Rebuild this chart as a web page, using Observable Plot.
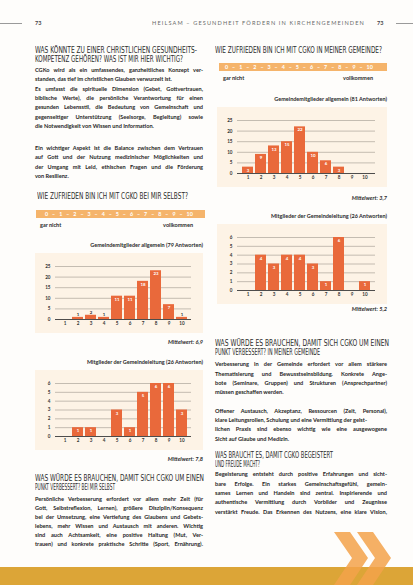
<!DOCTYPE html>
<html><head><meta charset="utf-8">
<script src="https://cdn.jsdelivr.net/npm/d3@7"></script>
<script src="https://cdn.jsdelivr.net/npm/@observablehq/plot@0.6"></script>
<style>
html,body{margin:0;padding:0;background:#fff;}
#page{position:relative;width:413px;height:585px;overflow:hidden;background:#fefdfb;font-family:Lato,"Open Sans",sans-serif;color:#2b2b2b;}
.abs{position:absolute;white-space:nowrap;}
.fit{display:inline-block;transform-origin:0 50%;}
.h{font-family:"DejaVu Sans Condensed","DejaVu Sans",sans-serif;font-size:8.4px;color:#2d2d2d;line-height:9px;height:9px;}
.ln{font-size:5.6px;font-weight:700;line-height:7px;height:7px;color:#262626;}
.j{text-align:justify;text-align-last:justify;}
.t{font-size:5.5px;font-weight:700;line-height:7px;height:7px;color:#2a2a2a;}
.hd{font-size:5px;font-weight:400;letter-spacing:1px;line-height:7px;height:7px;color:#6a6a6a;}
.mw{font-size:5.6px;font-weight:700;font-style:italic;line-height:7px;height:7px;color:#2a2a2a;}
</style></head><body><div id="page"></div>
<script>
// ---- data ----
const categories = [1, 2, 3, 4, 5, 6, 7, 8, 9, 10];
const selfMembers = [0, 1, 2, 1, 11, 11, 18, 23, 7, 1];   // Gemeindemitglieder allgemein (79)
const selfLeaders = [0, 1, 1, 0, 3, 1, 5, 6, 6, 3];       // Mitglieder der Gemeindeleitung (26)
const churchMembers = [3, 9, 13, 15, 22, 10, 6, 3, 0, 0]; // Gemeindemitglieder allgemein (81)
const churchLeaders = [0, 4, 3, 4, 4, 3, 1, 6, 0, 1];     // Mitglieder der Gemeindeleitung (26)
const scaleLabels = [0, 1, 2, 3, 4, 5, 6, 7, 8, 9, 10];
const chartTitles = ["Gemeindemitglieder allgemein (79 Antworten)", "Mitglieder der Gemeindeleitung (26 Antworten)",
                     "Gemeindemitglieder allgemein (81 Antworten)", "Mitglieder der Gemeindeleitung (26 Antworten)"];
const meanLabels = ["Mittelwert: 6,9", "Mittelwert: 7,8", "Mittelwert: 3,7", "Mittelwert: 5,2"];

const page = document.getElementById("page");
function add(html, cls, css) {
  const d = document.createElement("div");
  d.className = "abs " + (cls || "");
  Object.assign(d.style, css || {});
  d.innerHTML = html;
  page.appendChild(d);
  return d;
}
function fitted(text, cls, x, cy, targetW, h) {
  const d = add("", cls, {left: x + "px", top: (cy - h / 2) + "px"});
  const s = document.createElement("span");
  s.className = "fit";
  s.textContent = text;
  d.appendChild(s);
  const w = s.getBoundingClientRect().width;
  s.style.transform = `scaleX(${targetW / w})`;
  return d;
}
function heading(lines, x, cys, widths) {
  lines.forEach((t, i) => fitted(t, "h", x, cys[i], widths[i], 9));
}
function para(lines, x, w, cys, lastLeft) {
  lines.forEach((t, i) => {
    const left = lastLeft.includes(i);
    add(t, "ln" + (left ? "" : " j"), {left: x + "px", top: (cys[i] - 3.5) + "px", width: w + "px"});
  });
}
function scaleBar(x, y, w, nx, tx, tw) {
  const bar = add("", "", {left: x + "px", top: y + "px", width: w + "px", height: "8px", background: "#f5b46b"});
  const inner = document.createElement("div");
  Object.assign(inner.style, {position: "absolute", left: (tx - x) + "px", width: tw + "px", top: "0", height: "8px",
    display: "flex", justifyContent: "space-between", alignItems: "center", color: "#fff", fontSize: "5.4px", fontWeight: "700"});
  const parts = [];
  scaleLabels.forEach((v, i) => { parts.push(String(v)); if (i < scaleLabels.length - 1) parts.push("–"); });
  parts.forEach(p => { const s = document.createElement("span"); s.textContent = p; inner.appendChild(s); });
  bar.appendChild(inner);
  add("gar nicht", "t", {left: nx + "px", top: (y + 12) + "px"});
  add("vollkommen", "t", {left: (tx + tw - 40) + "px", width: "40px", textAlign: "right", top: (y + 12) + "px"});
}
function chart(values, yMax, yStep, w) {
  const data = categories.map((c, i) => ({c, v: values[i]}));
  const ticks = d3.range(0, yMax + 1e-9, yStep);
  const small = yMax * 0.12; // bars too short to hold their label inside
  return Plot.plot({
    width: w, height: 80, marginLeft: 20, marginRight: 12, marginTop: 13, marginBottom: 14,
    style: {background: "#fdf3e6", fontFamily: "Lato, sans-serif", fontSize: "4.6px", color: "#333", overflow: "visible"},
    x: {type: "band", domain: categories, padding: 0.14, label: null},
    y: {domain: [0, yMax], label: null},
    marks: [
      Plot.ruleY(ticks.filter(t => t > 0), {stroke: "#bdb5aa", strokeWidth: 0.9}),
      Plot.axisY(ticks, {tickSize: 0, tickPadding: 5, label: null, fontWeight: "bold"}),
      Plot.axisX({tickSize: 0, tickPadding: 2.5, label: null, fontWeight: "bold"}),
      Plot.barY(data, {x: "c", y: "v", fill: "#e9693b"}),
      Plot.ruleY([0], {stroke: "#3a3a3a", strokeWidth: 0.9}),
      Plot.text(data.filter(d => d.v >= small), {x: "c", y: "v", text: d => String(d.v), dy: 3.2, fill: "white", fontSize: 4.4, fontWeight: "bold"}),
      Plot.text(data.filter(d => d.v > 0 && d.v < small), {x: "c", y: "v", text: d => String(d.v), dy: -3, fill: "#333", fontSize: 4.4, fontWeight: "bold"})
    ]
  });
}
function placeChart(values, yMax, yStep, x, top, w, title, mean, meanY) {
  add(title, "t", {left: (x + w - 160) + "px", width: "160px", textAlign: "right", top: (top - 11.5) + "px"});
  const holder = add("", "", {left: x + "px", top: top + "px"});
  holder.appendChild(chart(values, yMax, yStep, w));
  add(mean, "mw", {left: (x + w - 80) + "px", width: "80px", textAlign: "right", top: (meanY - 3.5) + "px"});
}

// ---- header ----
add("", "", {left: "0px", top: "22.5px", width: "22px", height: "1px", background: "#9a9a9a"});
add("73", "t", {left: "35px", top: "19.5px", color: "#444"});
fitted("HEILSAM – GESUNDHEIT FÖRDERN IN KIRCHENGEMEINDEN", "hd", 152, 23, 213, 7);
add("73", "t", {left: "377px", top: "19.5px", color: "#444"});
add("", "", {left: "396px", top: "22.5px", width: "17px", height: "1px", background: "#9a9a9a"});

// ---- left column ----
heading(["WAS KÖNNTE ZU EINER CHRISTLICHEN GESUNDHEITS-", "KOMPETENZ GEHÖREN? WAS IST MIR HIER WICHTIG?"], 35, [50, 59], [162, 148]);
para(["CGKo wird als ein umfassendes, ganzheitliches Konzept ver-",
      "standen, das tief im christlichen Glauben verwurzelt ist.",
      "Es umfasst die spirituelle Dimension (Gebet, Gottvertrauen,",
      "biblische Werte), die persönliche Verantwortung für einen",
      "gesunden Lebensstil, die Bedeutung von Gemeinschaft und",
      "gegenseitiger Unterstützung (Seelsorge, Begleitung) sowie",
      "die Notwendigkeit von Wissen und Information."], 35, 168, [69, 78, 88, 97, 106, 116, 125], [1, 6]);
para(["Ein wichtiger Aspekt ist die Balance zwischen dem Vertrauen",
      "auf Gott und der Nutzung medizinischer Möglichkeiten und",
      "der Umgang mit Leid, ethischen Fragen und die Förderung",
      "von Resilienz."], 35, 168, [147, 156, 166, 175], [3]);
heading(["WIE ZUFRIEDEN BIN ICH MIT CGKO BEI MIR SELBST?"], 37, [196], [151]);
scaleBar(36, 210, 169, 40, 45, 148);
placeChart(selfMembers, 25, 5, 35, 253, 168, chartTitles[0], meanLabels[0], 341);
placeChart(selfLeaders, 6, 1, 35, 370, 168, chartTitles[1], meanLabels[1], 458);
heading(["WAS WÜRDE ES BRAUCHEN, DAMIT SICH CGKO UM EINEN", "PUNKT VERBESSERT? BEI MIR SELBST"], 35, [478, 487], [169, 80]);
para(["Persönliche Verbesserung erfordert vor allem mehr Zeit (für",
      "Gott, Selbstreflexion, Lernen), größere Disziplin/Konsequenz",
      "bei der Umsetzung, eine Vertiefung des Glaubens und Gebets-",
      "lebens, mehr Wissen und Austausch mit anderen. Wichtig",
      "sind auch Achtsamkeit, eine positive Haltung (Mut, Ver-",
      "trauen) und konkrete praktische Schritte (Sport, Ernährung)."], 35, 168, [498, 507, 516, 525, 534, 543], []);

// ---- right column ----
heading(["WIE ZUFRIEDEN BIN ICH MIT CGKO IN MEINER GEMEINDE?"], 215, [50], [167]);
scaleBar(219, 63, 168, 223, 225, 148);
placeChart(churchMembers, 25, 5, 217, 107, 170, chartTitles[2], meanLabels[2], 197);
placeChart(churchLeaders, 6, 1, 217, 224, 170, chartTitles[3], meanLabels[3], 308);
heading(["WAS WÜRDE ES BRAUCHEN, DAMIT SICH CGKO UM EINEN", "PUNKT VERBESSERT? IN MEINER GEMEINDE"], 215, [343, 352], [174, 105]);
para(["Verbesserung in der Gemeinde erfordert vor allem stärkere",
      "Thematisierung und Bewusstseinsbildung. Konkrete Ange-",
      "bote (Seminare, Gruppen) und Strukturen (Ansprechpartner)",
      "müssen geschaffen werden."], 215, 172, [363, 373, 382, 391], [3]);
para(["Offener Austausch, Akzeptanz, Ressourcen (Zeit, Personal),",
      "klare Leitungsrollen, Schulung und eine Vermittlung der geist-",
      "lichen Praxis sind ebenso wichtig wie eine ausgewogene",
      "Sicht auf Glaube und Medizin."], 215, 172, [410, 419, 428, 438], [1, 3]);
heading(["WAS BRAUCHT ES, DAMIT CGKO BEGEISTERT", "UND FREUDE MACHT?"], 215, [455, 464], [118, 45]);
para(["Begeisterung entsteht durch positive Erfahrungen und sicht-",
      "bare Erfolge. Ein starkes Gemeinschaftsgefühl, gemein-",
      "sames Lernen und Handeln sind zentral. Inspirierende und",
      "authentische Vermittlung durch Vorbilder und Zeugnisse",
      "verstärkt Freude. Das Erkennen des Nutzens, eine klare Vision,"], 215, 172, [473, 483, 492, 501, 511], []);

// ---- footer ----
add("", "", {left: "0px", top: "567px", width: "413px", height: "18px", background: "#dca537"});
const ns = "http://www.w3.org/2000/svg";
const svg = document.createElementNS(ns, "svg");
svg.setAttribute("width", 413); svg.setAttribute("height", 585);
Object.assign(svg.style, {position: "absolute", left: "0", top: "0", pointerEvents: "none"});
[0, 23].forEach(dx => {
  const p = document.createElementNS(ns, "polygon");
  const pts = [[334, 532], [350, 532], [368, 558], [350, 585], [334, 585], [352, 558]].map(([a, b]) => (a + dx) + "," + b).join(" ");
  p.setAttribute("points", pts);
  p.setAttribute("fill", "#f3a24a");
  p.setAttribute("fill-opacity", "0.85");
  svg.appendChild(p);
});
page.appendChild(svg);
</script>
</body></html>
